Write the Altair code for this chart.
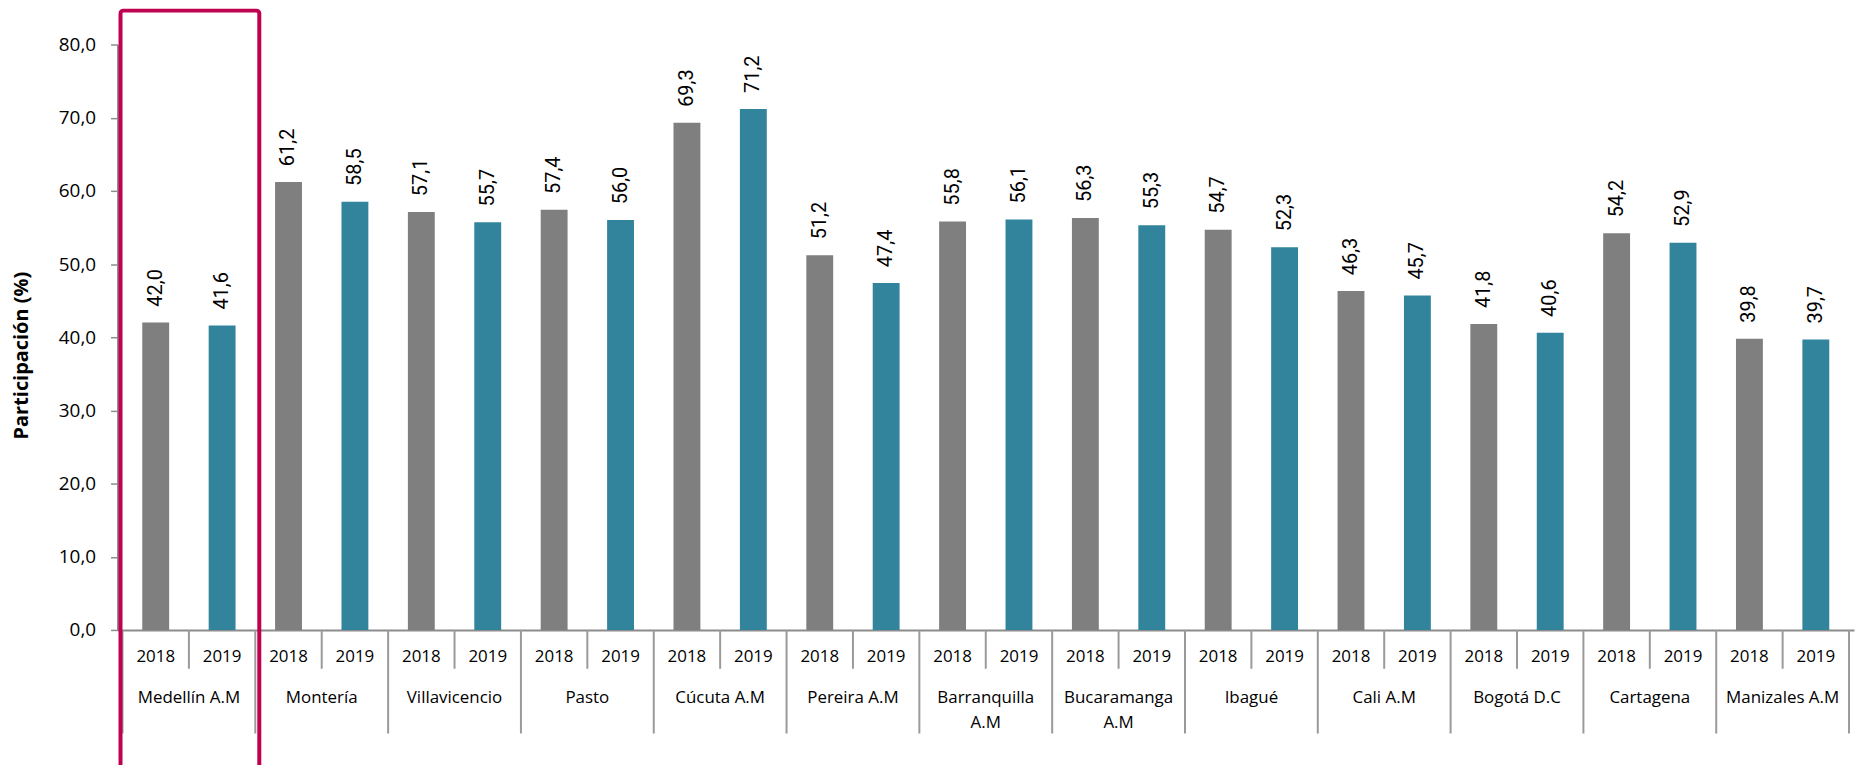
import altair as alt
import pandas as pd

cities = ["Medellín A.M", "Montería", "Villavicencio", "Pasto", "Cúcuta A.M",
          "Pereira A.M", "Barranquilla\nA.M", "Bucaramanga\nA.M", "Ibagué",
          "Cali A.M", "Bogotá D.C", "Cartagena", "Manizales A.M"]
years = ["2018", "2019"]
v2018 = [42.0, 61.2, 57.1, 57.4, 69.3, 51.2, 55.8, 56.3, 54.7, 46.3, 41.8, 54.2, 39.8]
v2019 = [41.6, 58.5, 55.7, 56.0, 71.2, 47.4, 56.1, 55.3, 52.3, 45.7, 40.6, 52.9, 39.7]
y_ticks = [0, 10, 20, 30, 40, 50, 60, 70, 80]
highlight = "Medellín A.M"

W, H = 1744, 588
n = len(cities)
GRAY = "#8C8C8C"
SEP = "#9A9A9A"
RED = "#C00050"
FONT = "Open Sans"
VFONT = "Roboto"

rows = []
for i, c in enumerate(cities):
    for j, (yr, vals) in enumerate(zip(years, [v2018, v2019])):
        rows.append({"city": c, "year": yr, "value": vals[i], "pos": i + 0.25 + 0.5 * j})
bars_df = pd.DataFrame(rows)
groups_df = pd.DataFrame({
    "city": cities,
    "start": list(range(n)),
    "mid": [i + 0.5 for i in range(n)],
    "end": [i + 1 for i in range(n)],
})
edges_df = pd.DataFrame({"edge": list(range(n + 1))})

xscale = alt.Scale(domain=[0, n], nice=False, zero=False)
xaxis = alt.Axis(labels=False, ticks=False, grid=False, domainColor=GRAY,
                 domainWidth=2, title=None)
yscale = alt.Scale(domain=[0, 80], nice=False)
yaxis = alt.Axis(values=y_ticks,
                 labelExpr="replace(format(datum.value, '.1f'), '.', ',')",
                 tickSize=7, tickColor=GRAY, tickWidth=1.5, domainColor=GRAY,
                 domainWidth=2, labelFont=FONT, labelFontSize=19,
                 labelColor="black", labelPadding=15, grid=False,
                 title="Participación (%)", titleFont=FONT, titleFontSize=20,
                 titleFontWeight="bold", titleColor="black", titleX=-96,
                 titleY=312, titleAngle=270, titleAlign="center",
                 titleBaseline="middle")

base = alt.Chart(bars_df)

bars = base.mark_bar(size=27).encode(
    x=alt.X("pos:Q", scale=xscale, axis=xaxis),
    y=alt.Y("value:Q", scale=yscale, axis=yaxis),
    color=alt.Color("year:N", scale=alt.Scale(domain=years, range=["#7F7F7F", "#31849B"]),
                    legend=None),
)

values = base.transform_calculate(
    label="replace(format(datum.value, '.1f'), '.', ',')"
).mark_text(angle=270, align="left", baseline="middle", dx=16,
            font=VFONT, fontSize=20, color="black").encode(
    x=alt.X("pos:Q", scale=xscale, axis=xaxis),
    y=alt.Y("value:Q", scale=yscale, axis=yaxis),
    text="label:N",
)

year_labels = base.mark_text(font=FONT, fontSize=17, baseline="middle",
                             color="black").encode(
    x=alt.X("pos:Q", scale=xscale, axis=xaxis),
    y=alt.value(H + 27),
    text="year:N",
)

year_seps = alt.Chart(groups_df).mark_rule(color=SEP, strokeWidth=2).encode(
    x=alt.X("mid:Q", scale=xscale, axis=xaxis),
    y=alt.value(H),
    y2=alt.value(H + 39),
)

group_seps = alt.Chart(edges_df).mark_rule(color=SEP, strokeWidth=2).encode(
    x=alt.X("edge:Q", scale=xscale, axis=xaxis),
    y=alt.value(H),
    y2=alt.value(H + 104),
)

city_labels = alt.Chart(groups_df).mark_text(
    font=FONT, fontSize=17, baseline="top", lineBreak="\n", lineHeight=25,
    color="black").encode(
    x=alt.X("mid:Q", scale=xscale, axis=xaxis),
    y=alt.value(H + 60),
    text="city:N",
)

hl = alt.Chart(groups_df).transform_filter(
    alt.datum.city == highlight
).mark_rect(fillOpacity=0, stroke=RED, strokeWidth=4, cornerRadius=3,
            xOffset=-2, x2Offset=4).encode(
    x=alt.X("start:Q", scale=xscale, axis=xaxis),
    x2="end:Q",
    y=alt.value(-34),
    y2=alt.value(H + 160),
)

chart = alt.layer(
    bars, values, year_seps, group_seps, year_labels, city_labels, hl
).properties(
    width=W, height=H,
    autosize=alt.AutoSizeParams(type="none"),
    padding={"left": 110, "top": 35, "right": 2, "bottom": 134},
).configure_view(stroke=None)

chart.save("out.html", embed_options={"renderer": "svg", "actions": False})
